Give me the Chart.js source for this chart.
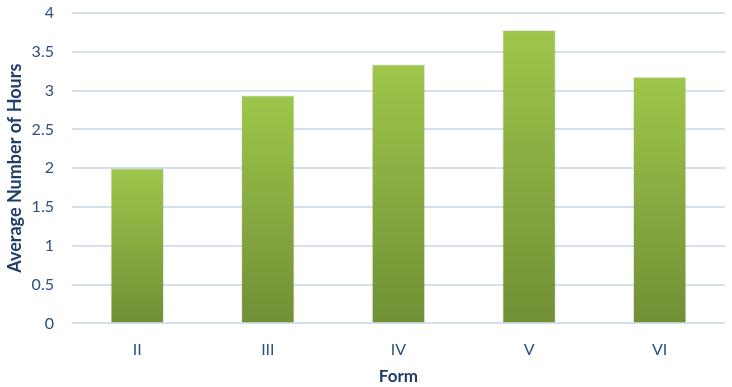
<!DOCTYPE html>
<html>
<head>
<meta charset="utf-8">
<script src="https://cdn.jsdelivr.net/npm/chart.js@4"></script>
<style>
  html, body { margin: 0; padding: 0; background: #fff; }
  #wrap { width: 732px; height: 387px; }
</style>
</head>
<body>
<div id="wrap"><canvas id="c"></canvas></div>
<script>
// datos
const forms = ["II", "III", "IV", "V", "VI"];
const avgHours = [2.0, 2.94, 3.34, 3.78, 3.18];
const yTicks = [0, 0.5, 1, 1.5, 2, 2.5, 3, 3.5, 4];

const tickColor = "#2f4f7f";
const titleColor = "#1f3e6b";
const fontFam = "Lato, 'Open Sans', sans-serif";

/* degradado por barra: claro arriba, oscuro abajo */
function barGradient(context){
  const chart = context.chart;
  if(!chart.chartArea) return "#8db343";
  const y = chart.scales.y;
  const top = y.getPixelForValue(avgHours[context.dataIndex]);
  const bottom = y.getPixelForValue(0);
  const g = chart.ctx.createLinearGradient(0, top, 0, bottom);
  g.addColorStop(0, "#9ec64b");
  g.addColorStop(1, "#6f9035");
  return g;
}

new Chart(document.getElementById("c").getContext("2d"), {
  type: "bar",
  data: {
    labels: forms,
    datasets: [{
      label: "Average Number of Hours",
      data: avgHours,
      backgroundColor: barGradient,
      borderColor: "rgba(0,0,0,0.08)",
      borderWidth: 1,
      categoryPercentage: 0.41,
      barPercentage: 1.0
    }]
  },
  options: {
    responsive: true,
    maintainAspectRatio: false,
    animation: false,
    layout: { padding: { top: 13, right: 7, bottom: 0, left: 4 } },
    plugins: { legend: { display: false }, tooltip: { enabled: false } },
    scales: {
      x: {
        grid: { display: false, drawTicks: false },
        border: { display: false },
        ticks: { color: tickColor, font: { family: fontFam, size: 16 }, padding: 17 },
        title: { display: true, text: "Form", color: titleColor, font: { family: fontFam, size: 17, weight: "bold" }, padding: { top: -10, bottom: 0 } }
      },
      y: {
        min: 0, max: 4,
        afterBuildTicks: axis => { axis.ticks = yTicks.map(v => ({ value: v })); },
        grid: { color: "#d5e0ee", lineWidth: 2, drawTicks: true, tickLength: 18, tickColor: "rgba(0,0,0,0)" },
        border: { display: false },
        ticks: { color: tickColor, font: { family: fontFam, size: 16 }, padding: 0, callback: v => String(v) },
        title: { display: true, text: "Average Number of Hours", color: titleColor, font: { family: fontFam, size: 18, weight: "bold" }, padding: { top: 0, bottom: 6 } }
      }
    }
  }
});
</script>
</body>
</html>
